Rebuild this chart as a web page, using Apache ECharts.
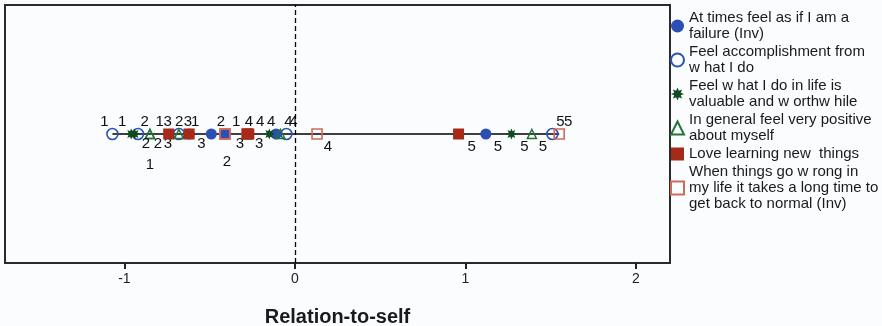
<!DOCTYPE html>
<html>
<head>
<meta charset="utf-8">
<script src="https://cdn.jsdelivr.net/npm/echarts@6/dist/echarts.min.js"></script>
<style>html,body{margin:0;padding:0;background:#fbfcfe;}#c{width:882px;height:326px;}</style>
</head>
<body>
<div id="c"></div>
<script>
// ---- data (Relation-to-self scores for response categories 1..5) ----
const categories = ['1', '2', '3', '4', '5'];
const seriesNames = [
  'At times feel as if I am a\nfailure (Inv)',
  'Feel accomplishment from\nw hat I do',
  'Feel w hat I do in life is\nvaluable and w orthw hile',
  'In general feel very positive\nabout myself',
  'Love learning new  things',
  'When things go w rong in\nmy life it takes a long time to\nget back to normal (Inv)'
];
const failure        = [-0.62, -0.41, -0.49, -0.11, 1.12];
const accomplishment = [-1.07, -0.92, -0.68, -0.05, 1.51];
const worthwhile     = [-0.96, -0.94, -0.74, -0.15, 1.27];
const positive       = [-0.85, -0.85, -0.68, -0.085, 1.39];
const loveLearning   = [-0.74, -0.62, -0.28, -0.27, 0.96];
const normal         = [-0.28, -0.41, -0.41, 0.13, 1.55];
const xTicks = [-1, 0, 1, 2];

// ---- styling / label placement (not data) ----
const labelOffsets = [
  [[6,-12],[-4,-12],[-10,10],[-5,-12],[12,13]],
  [[-8,-12],[8,10],[9,-12],[7,-12],[8,-12]],
  [[-9,-12],[10,-12],[-1,-12],[-9,-12],[13,13]],
  [[0,31],[8,10],[-11,10],[8,-12],[11,13]],
  [[-9,-12],[-10,-12],[12,10],[0,-12],[13,13]],
  [[-11,-12],[2,28],[15,10],[11,13],[9,-12]]
];
function starPath() {
  let d = '';
  const n = 8, R = 10, r = 5.4;
  for (let i = 0; i < n * 2; i++) {
    const rad = (i % 2 === 0) ? R : r;
    const a = Math.PI * i / n - Math.PI / 2;
    const x = (rad * Math.cos(a) + 10).toFixed(2), y = (rad * Math.sin(a) + 10).toFixed(2);
    d += (i === 0 ? 'M' : 'L') + x + ' ' + y + ' ';
  }
  return 'path://' + d + 'Z';
}
const styles = [
  { symbol: 'circle', size: 11, item: { color: '#2b4fb3', opacity: 1 } },
  { symbol: 'circle', size: 11, item: { color: 'rgba(0,0,0,0)', borderColor: '#2c52b5', borderWidth: 1.6, opacity: 1 } },
  { symbol: starPath(), size: 11, item: { color: '#0f4a20', opacity: 1 } },
  { symbol: 'triangle', size: 9, item: { color: 'rgba(0,0,0,0)', borderColor: '#237535', borderWidth: 1.5, opacity: 1 } },
  { symbol: 'rect', size: 11, item: { color: '#a52a1a', opacity: 1 } },
  { symbol: 'rect', size: 10, item: { color: 'rgba(0,0,0,0)', borderColor: '#cf6a58', borderWidth: 1.6, opacity: 1 } }
];
const allValues = [failure, accomplishment, worthwhile, positive, loveLearning, normal];
const zOrder = [3, 3, 3, 3, 5, 4];

const flat = allValues.flat();
const lineData = [[Math.min(...flat), 0], [Math.max(...flat), 0]];

const series = [{
  type: 'line', data: lineData, symbol: 'none', silent: true, z: 1,
  lineStyle: { color: '#000', width: 1.6 },
  markLine: {
    silent: true, symbol: 'none', label: { show: false },
    lineStyle: { color: '#000', type: [5, 3], width: 1.3 },
    data: [{ xAxis: 0 }]
  }
}];
allValues.forEach((vals, si) => {
  series.push({
    type: 'scatter', name: seriesNames[si], z: zOrder[si],
    symbol: styles[si].symbol, symbolSize: styles[si].size,
    itemStyle: styles[si].item,
    data: vals.map((v, i) => ({
      value: [v, 0],
      label: { offset: labelOffsets[si][i] }
    })),
    label: {
      show: true, position: 'inside', color: '#111', fontSize: 15,
      fontFamily: 'Liberation Sans',
      formatter: p => categories[p.dataIndex]
    }
  });
});

const chart = echarts.init(document.getElementById('c'));
chart.setOption({
  backgroundColor: '#fbfcfe',
  animation: false,
  grid: { left: 5, right: 212, top: 5, bottom: 63, outerBoundsMode: 'none', containLabel: false,
          show: true, borderColor: '#2a2a2a', borderWidth: 2, backgroundColor: 'rgba(0,0,0,0)' },
  xAxis: {
    type: 'value', min: -1.7, max: 2.2,
    name: 'Relation-to-self', nameLocation: 'middle', nameGap: 44,
    nameTextStyle: { fontSize: 20, fontWeight: 'bold', fontFamily: 'Liberation Sans', color: '#1a1a1a' },
    splitLine: { show: false },
    axisLine: { show: false, onZero: false },
    axisTick: { show: true, inside: false, length: 6, customValues: xTicks, lineStyle: { color: '#222', width: 2 } },
    axisLabel: { customValues: xTicks, fontSize: 14, fontFamily: 'Liberation Sans', color: '#222', margin: 9 }
  },
  yAxis: { type: 'value', min: -1, max: 1, show: false },
  legend: {
    orient: 'vertical', left: 665, top: 5, itemGap: 2,
    itemWidth: 13, itemHeight: 13,
    textStyle: { fontSize: 15, fontFamily: 'Liberation Sans', color: '#1a1a1a', lineHeight: 16 },
    data: seriesNames
  },
  series: series
});
</script>
</body>
</html>
